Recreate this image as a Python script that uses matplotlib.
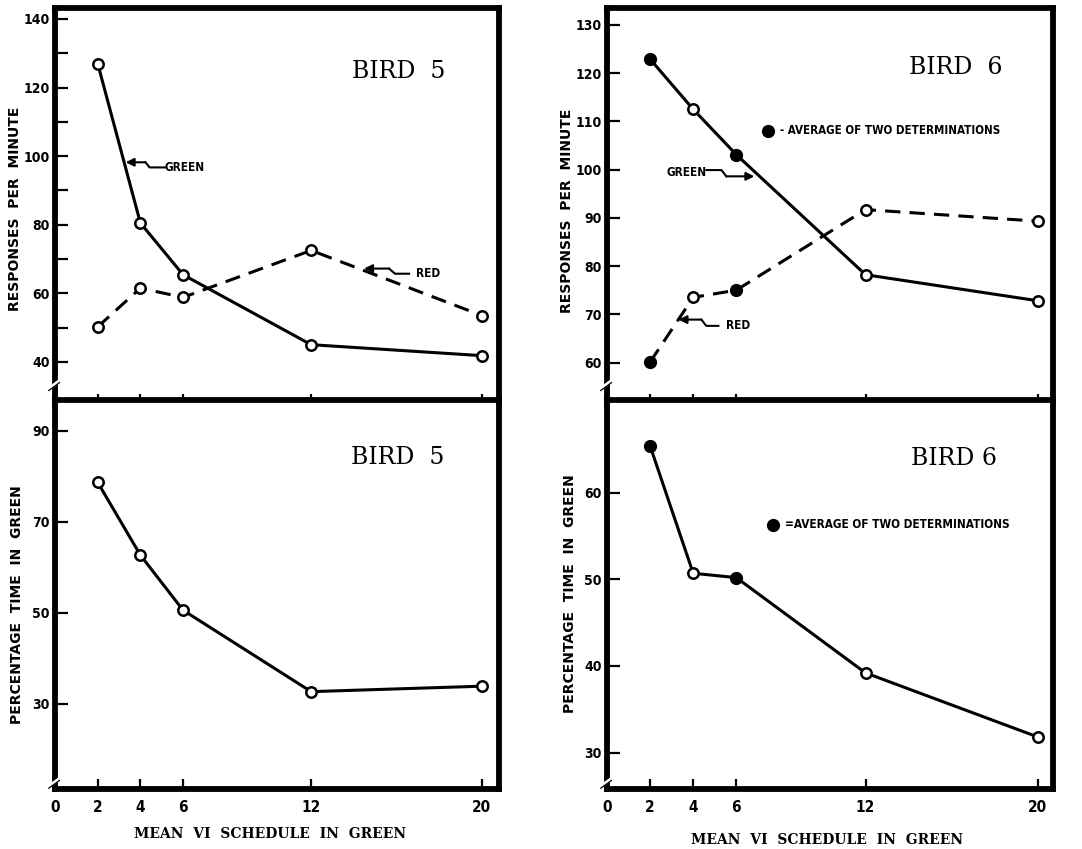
import matplotlib
matplotlib.use('Agg')
import matplotlib.pyplot as plt
from matplotlib import font_manager
import numpy as np

# mean VI schedule in green (minutes)
x_vi = [2, 4, 6, 12, 20]
x_ticks = [0, 2, 4, 6, 12, 20]

# bird 5
b5_green_rate = [127.0, 80.5, 65.4, 45.0, 41.8]
b5_red_rate = [50.2, 61.5, 58.8, 72.5, 53.5]
b5_time_green = [78.7, 62.7, 50.6, 32.7, 33.9]

# bird 6 (filled points = average of two determinations)
b6_green_rate = [122.9, 112.5, 103.1, 78.2, 72.8]
b6_red_rate = [60.1, 73.5, 75.0, 91.7, 89.3]
b6_time_green = [65.4, 50.7, 50.2, 39.2, 31.8]
b6_avg_green = [True, False, True, False, False]
b6_avg_red = [True, False, True, False, False]
b6_avg_time = [True, False, True, False, False]
b5_avg = [False] * 5


def pick_font(names):
    for n in names:
        try:
            font_manager.findfont(font_manager.FontProperties(family=n), fallback_to_default=False)
            return n
        except ValueError:
            pass
    return 'DejaVu Sans'


narrow = pick_font(['Liberation Sans Narrow', 'DejaVu Sans'])
serif = pick_font(['DejaVu Serif', 'Liberation Serif'])
plt.rcParams['font.family'] = [narrow, 'DejaVu Sans']
plt.rcParams['font.weight'] = 'bold'
plt.rcParams['font.stretch'] = 'condensed'   # tick labels and notes are narrow

W, H = 1082, 849
fig = plt.figure(figsize=(W / 100, H / 100), dpi=100)


def px_axes(x0, x1, ytop, ybot):
    return fig.add_axes([x0 / W, 1 - ybot / H, (x1 - x0) / W, (ybot - ytop) / H])


ax5a = px_axes(55, 499, 8, 404)
ax5b = px_axes(55, 499, 400, 789)
ax6a = px_axes(607, 1053, 8, 404)
ax6b = px_axes(607, 1053, 400, 789)


def series(ax, y, filled, dashed=False):
    y = np.array(y)
    f = np.array(filled)
    x = np.array(x_vi)
    ax.plot(x, y, color='black', lw=2.2, ls=(0, (5, 3)) if dashed else '-', zorder=2)
    ax.plot(x[~f], y[~f], 'o', ms=7.5, mfc='white', mec='black', mew=1.8, zorder=3)
    ax.plot(x[f], y[f], 'o', ms=8.5, mfc='black', mec='black', zorder=3)


def frame(ax, xlim, ylim, yticks, ylabels, bottom):
    ax.set_xlim(*xlim)
    ax.set_ylim(*ylim)
    for s in ax.spines.values():
        s.set_linewidth(4.2)
    ax.set_xticks(x_vi)
    ax.set_yticks(yticks)
    ax.set_yticklabels(ylabels)
    ax.tick_params(axis='y', direction='in', length=9, width=1.6, pad=4, labelsize=10)
    ax.tick_params(axis='x', direction='in', length=7, width=1.6, pad=8, labelsize=11)
    if bottom:
        ax.set_xticks(x_ticks)
        ax.set_xticklabels([str(v) for v in x_ticks])
        ax.get_xticklines()[0].set_visible(False)
        ax.get_xticklines()[1].set_visible(False)
    else:
        ax.tick_params(axis='x', labelbottom=False)
    # axis break mark on the left spine
    yb = 0.05 if not bottom else 0.018
    ax.plot([-0.012, 0.012], [yb - 0.01, yb + 0.01], transform=ax.transAxes,
            color='white', lw=2.5, clip_on=False, zorder=5)
    ax.plot([-0.014, 0.010], [yb - 0.016, yb + 0.004], transform=ax.transAxes,
            color='black', lw=0.9, clip_on=False, zorder=6)


def side_labels(ax, ylabel, ypos, xlabel=None, xpos=None):
    ax.set_ylabel(ylabel, family='DejaVu Sans', fontsize=10, weight='bold',
                  fontstretch='normal')
    ax.yaxis.label.set(va='center', ha='center')
    ax.yaxis.set_label_coords(*ypos)
    if xlabel:
        ax.set_xlabel(xlabel, family=serif, fontsize=10, weight='bold',
                      fontstretch='normal')
        ax.xaxis.label.set(va='center', ha='center')
        ax.xaxis.set_label_coords(*xpos)


def bird_title(ax, txt, pos):
    ax.text(pos[0], pos[1], txt, transform=ax.transAxes, family=serif,
            weight='normal', fontstretch='normal', fontsize=17,
            ha='center', va='center')


def zig_arrow(ax, pts, head):
    xs = [p[0] for p in pts]
    ys = [p[1] for p in pts]
    ax.plot(xs, ys, color='black', lw=1.5, zorder=4)
    ax.annotate('', xy=head, xytext=pts[-1],
                arrowprops=dict(arrowstyle='-|>', color='black', lw=1.5,
                                mutation_scale=12, shrinkA=0, shrinkB=0))


# ---- Bird 5, rate
series(ax5a, b5_red_rate, b5_avg, dashed=True)
series(ax5a, b5_green_rate, b5_avg)
frame(ax5a, (0, 20.8), (27.7, 143.2), list(range(40, 141, 10)),
      [str(v) if v % 20 == 0 else '' for v in range(40, 141, 10)], False)
bird_title(ax5a, 'BIRD  5', (0.775, 0.84))
ax5a.text(6.09, 96.7, 'GREEN', fontsize=8.5, ha='center', va='center')
zig_arrow(ax5a, [(5.18, 96.7), (4.43, 96.7), (4.24, 98.2)], (3.31, 98.2))
ax5a.text(17.47, 65.7, 'RED', fontsize=8.5, ha='center', va='center')
zig_arrow(ax5a, [(16.59, 65.7), (15.93, 65.7), (15.65, 67.2)], (14.48, 67.2))
side_labels(ax5a, 'RESPONSES  PER  MINUTE', (-0.090, 0.492))

# ---- Bird 5, time
series(ax5b, b5_time_green, b5_avg)
frame(ax5b, (0, 20.8), (11.3, 96.8), [30, 50, 70, 90], ['30', '50', '70', '90'], True)
bird_title(ax5b, 'BIRD  5', (0.772, 0.853))
side_labels(ax5b, 'PERCENTAGE  TIME  IN  GREEN', (-0.086, 0.473),
            'MEAN  VI  SCHEDULE  IN  GREEN', (0.484, -0.116))

# ---- Bird 6, rate
series(ax6a, b6_red_rate, b6_avg_red, dashed=True)
series(ax6a, b6_green_rate, b6_avg_green)
frame(ax6a, (0, 20.7), (51.4, 133.5), list(range(60, 131, 10)),
      [str(v) for v in range(60, 131, 10)], False)
bird_title(ax6a, 'BIRD  6', (0.782, 0.85))
ax6a.text(3.67, 99.4, 'GREEN', fontsize=8.5, ha='center', va='center')
zig_arrow(ax6a, [(4.62, 99.9), (5.31, 99.9), (5.54, 98.6)], (6.84, 98.6))
ax6a.text(6.09, 67.6, 'RED', fontsize=8.5, ha='center', va='center')
zig_arrow(ax6a, [(5.17, 67.6), (4.61, 67.6), (4.38, 68.9)], (3.32, 68.9))
ax6a.plot([7.49], [108.0], 'o', ms=8.5, color='black')
ax6a.text(8.05, 108.1, '- AVERAGE OF TWO DETERMINATIONS', fontsize=8.3,
          ha='left', va='center')
side_labels(ax6a, 'RESPONSES  PER  MINUTE', (-0.090, 0.487))

# ---- Bird 6, time
series(ax6b, b6_time_green, b6_avg_time)
frame(ax6b, (0, 20.7), (25.8, 70.7), [30, 40, 50, 60], ['30', '40', '50', '60'], True)
bird_title(ax6b, 'BIRD 6', (0.778, 0.85))
ax6b.plot([7.72], [56.3], 'o', ms=8.5, color='black')
ax6b.text(8.25, 56.3, '=AVERAGE OF TWO DETERMINATIONS', fontsize=8.5,
          ha='left', va='center')
side_labels(ax6b, 'PERCENTAGE  TIME  IN  GREEN', (-0.083, 0.501),
            'MEAN  VI  SCHEDULE  IN  GREEN', (0.493, -0.131))

fig.savefig('out.png', dpi=100)
